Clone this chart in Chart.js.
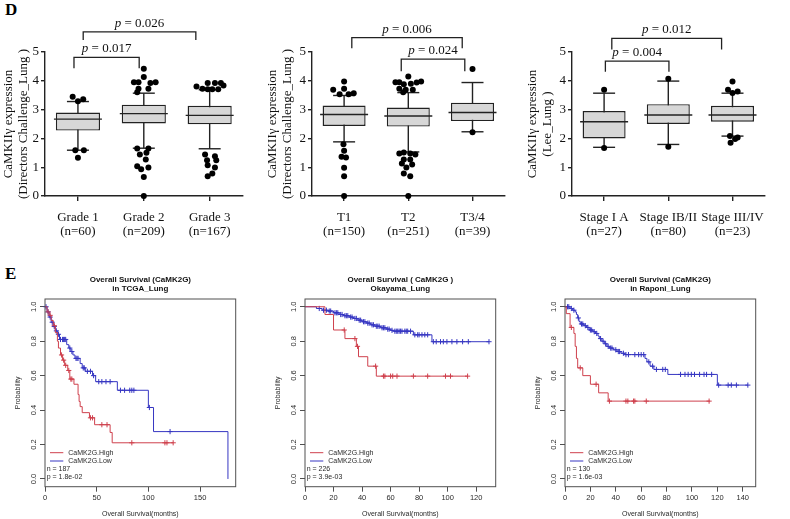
<!DOCTYPE html>
<html><head><meta charset="utf-8">
<script src="https://cdn.jsdelivr.net/npm/chart.js@4.4.1/dist/chart.umd.min.js"></script>
<style>
html,body{margin:0;padding:0;background:#fff;}
body{width:790px;height:519px;position:relative;overflow:hidden;}
canvas{position:absolute;}
.lab{position:absolute;font:bold 17px/17px "Liberation Serif",serif;color:#000;}
</style></head><body>
<div class="lab" style="left:5px;top:1px">D</div>
<div class="lab" style="left:5px;top:265px">E</div>
<canvas id="box1" width="268" height="245" style="left:0;top:0"></canvas>
<canvas id="box2" width="270" height="245" style="left:260px;top:0"></canvas>
<canvas id="box3" width="270" height="245" style="left:520px;top:0"></canvas>
<canvas id="km1" width="260" height="249" style="left:0;top:270px"></canvas>
<canvas id="km2" width="265" height="249" style="left:260px;top:270px"></canvas>
<canvas id="km3" width="270" height="249" style="left:520px;top:270px"></canvas>
<script>
// ---------------- DATA: box plots ----------------
const gradeLabels = [['Grade 1','(n=60)'],['Grade 2','(n=209)'],['Grade 3','(n=167)']];
const gradeQ1 = [2.27, 2.52, 2.49];
const gradeMedian = [2.67, 2.86, 2.80];
const gradeQ3 = [2.90, 3.17, 3.13];
const gradeLow = [1.59, 1.66, 1.64];
const gradeHigh = [3.28, 3.57, 3.69];
const gradeOutliers = [ // [x in category units, value]
  [-0.08,3.45],[0.0,3.29],[0.08,3.36],[-0.04,1.59],[0.09,1.59],[0.0,1.33],
  [1.0,4.42],[1.0,4.13],[0.85,3.95],[0.92,3.95],[1.10,3.92],[1.18,3.95],[0.92,3.72],[1.07,3.72],[0.90,3.60],
  [0.90,1.65],[1.07,1.65],[0.94,1.44],[1.04,1.50],[1.03,1.27],[0.90,1.03],[1.07,0.99],[0.96,0.93],[1.0,0.66],[1.0,0.0],
  [1.80,3.80],[1.89,3.72],[1.97,3.92],[2.08,3.92],[2.17,3.92],[2.21,3.84],[1.97,3.71],[2.04,3.71],[2.13,3.71],
  [1.93,1.44],[2.08,1.38],[1.96,1.24],[2.10,1.24],[1.97,1.07],[2.08,0.99],[1.97,0.69],[2.04,0.78]
];
const gradePValues = ['0.026','0.017'];

const tLabels = [['T1','(n=150)'],['T2','(n=251)'],['T3/4','(n=39)']];
const tQ1 = [2.43, 2.41, 2.60];
const tMedian = [2.83, 2.78, 2.90];
const tQ3 = [3.14, 3.07, 3.24];
const tLow = [1.88, 1.53, 2.23];
const tHigh = [3.49, 3.59, 3.94];
const tOutliers = [
  [-0.17,3.69],[0.0,3.98],[0.0,3.72],[-0.07,3.53],[0.07,3.53],[0.15,3.57],
  [-0.01,1.80],[0.0,1.57],[-0.04,1.36],[0.03,1.34],[0.0,0.98],[0.0,0.69],[0.0,0.0],
  [1.0,4.15],[0.80,3.95],[0.86,3.95],[0.93,3.88],[1.04,3.90],[1.13,3.94],[1.20,3.98],[0.86,3.72],[0.96,3.69],[1.07,3.69],[0.92,3.60],
  [0.86,1.48],[0.93,1.51],[1.03,1.48],[1.11,1.44],[0.93,1.27],[1.03,1.27],[0.90,1.13],[1.06,1.09],[0.97,0.99],[0.93,0.78],[1.03,0.69],[1.0,0.0],
  [2.0,4.41],[2.0,2.21]
];
const tPValues = ['0.006','0.024'];

const stageLabels = [['Stage I A','(n=27)'],['Stage IB/II','(n=80)'],['Stage III/IV','(n=23)']];
const stageQ1 = [2.00, 2.50, 2.58];
const stageMedian = [2.58, 2.81, 2.81];
const stageQ3 = [2.95, 3.19, 3.13];
const stageLow = [1.69, 1.79, 2.08];
const stageHigh = [3.57, 3.99, 3.57];
const stageOutliers = [
  [0.0,3.69],[0.0,1.67],[1.0,4.07],[1.0,1.71],
  [2.0,3.98],[1.93,3.69],[2.0,3.58],[2.08,3.63],[1.97,1.85],[2.04,1.98],[2.08,2.03],[1.96,2.08]
];
const stagePValues = ['0.012','0.004'];

const boxYTicks = [0,1,2,3,4,5];

// ---------------- DATA: Kaplan-Meier ----------------
const kmYTicks = [0,0.2,0.4,0.6,0.8,1.0];
const kmYTickLabels = ['0.0','0.2','0.4','0.6','0.8','1.0'];
const seriesNames = ['CaMK2G.High','CaMK2G.Low'];

const km1HighT = [0,2,4,6,8,10,12,13,15,17,19,22,24,28,32,33,34,36,43,48,63,65,124];
const km1HighS = [1,0.97,0.95,0.92,0.89,0.85,0.80,0.76,0.72,0.69,0.66,0.63,0.58,0.55,0.49,0.45,0.42,0.385,0.355,0.315,0.27,0.21,0.21];
const km1HighCens = [3,5,9,16,18,20,23,25,26,44,46,55,60,84,116,118,124];
const km1LowT = [0,2,4,6,8,10,12,14,21,23,25,27,29,34,36,39,46,49,70,100,105,177];
const km1LowS = [1,0.97,0.94,0.91,0.885,0.86,0.84,0.81,0.78,0.76,0.74,0.72,0.70,0.67,0.645,0.625,0.60,0.565,0.515,0.415,0.275,0];
const km1LowCens = [1,3,5,7,9,11,13,15,17,18,19,20,24,26,30,31,32,37,38,41,44,47,52,55,59,63,73,77,82,84,86,101,121];
const km1XTicks = [0,50,100,150];

const km2HighT = [0,14,20,28,36,37.5,44,50,114];
const km2HighS = [1,0.955,0.865,0.815,0.77,0.71,0.655,0.597,0.597];
const km2HighCens = [27.5,35,36.8,49.5,55,56,60,61.5,64.5,76,86,98.5,102,114];
const km2LowT = [0,8,12,16,20,24,27,31,34,37,40,43,46,49,53,57,60,62,76,89,129];
const km2LowS = [1,0.99,0.98,0.975,0.965,0.955,0.948,0.94,0.932,0.922,0.913,0.905,0.895,0.887,0.878,0.87,0.863,0.858,0.837,0.797,0.797];
const km2LowCens = [10,13,15,17,18,21,22,23,25,26,28,29,30,32,33,35,36,38,39,41,42,44,45,47,48,50,51,52,54,55,56,58,59,61,63,64,65,66,67,68,70,71,72,74,77,79,80,82,84,86,90,92,95,97,99.5,103,106.5,110.5,114.5,129];
const km2XTicks = [0,20,40,60,80,100,120];

const km3HighT = [0,1,4,7,8,9,10,14,20,26.5,34,114];
const km3HighS = [1,0.96,0.88,0.845,0.77,0.70,0.645,0.60,0.55,0.50,0.452,0.452];
const km3HighCens = [5,12,24.5,35,48,49.5,54,55,64,113.5];
const km3LowT = [0,4,6,8,9,10,11,12,15,17,19,22,24,26,27,29,31,33,35,38,41,44,47,63,64.5,67,70,81,120,144];
const km3LowS = [1,0.99,0.98,0.97,0.955,0.935,0.915,0.90,0.89,0.88,0.865,0.855,0.845,0.83,0.815,0.80,0.785,0.77,0.76,0.75,0.74,0.73,0.722,0.70,0.68,0.655,0.636,0.607,0.545,0.545];
const km3LowCens = [2,3,5,7,10.5,13,14,16,18,20,21,23,25,28,30,32,34,36,37,40,42,43,46,48,50,55,58,60,62,66,69,72,77,79,91,94.5,97,99.5,102,106,109.5,111.5,115.5,121,128.5,131,135,144];
const km3XTicks = [0,20,40,60,80,100,120,140];

// ---------------- helpers ----------------
const SERIF = '"Liberation Serif","Times New Roman",serif';
const SANS = '"Liberation Sans",Arial,sans-serif';
const INK = '#222';
const RED = '#cf404d';
const BLUE = '#3636c2';
const KTXT = '#2a2a2a';
const FRAME = '#505050';

const bracketPlugin = {
  id: 'brackets',
  afterDraw(chart, args, o) {
    const {ctx, scales:{x, y}} = chart;
    (o.items || []).forEach(b => {
      const x1 = x.getPixelForValue(b.from), x2 = x.getPixelForValue(b.to);
      const yl = y.getPixelForValue(b.level), yf = y.getPixelForValue(b.foot);
      ctx.save();
      ctx.strokeStyle = INK; ctx.lineWidth = 1.3;
      ctx.beginPath(); ctx.moveTo(x1, yf); ctx.lineTo(x1, yl); ctx.lineTo(x2, yl); ctx.lineTo(x2, yf); ctx.stroke();
      ctx.fillStyle = '#111'; ctx.textBaseline = 'alphabetic'; ctx.textAlign = 'left';
      ctx.font = 'italic 13px ' + SERIF; const w1 = ctx.measureText('p').width;
      const rest = ' = ' + b.p;
      ctx.font = '13px ' + SERIF; const w2 = ctx.measureText(rest).width;
      const sx = (x1 + x2) / 2 - (w1 + w2) / 2, by = yl - 5;
      ctx.font = 'italic 13px ' + SERIF; ctx.fillText('p', sx, by);
      ctx.font = '13px ' + SERIF; ctx.fillText(rest, sx + w1, by);
      ctx.restore();
    });
  }
};

function makeBox(id, g, place) {
  const canvas = document.getElementById(id);
  const H = canvas.height;
  const idx = g.labels.map((_, i) => i);
  const whiskers = [];
  idx.forEach(i => whiskers.push({x:i, y:g.low[i]}, {x:i, y:g.high[i]}, {x:i, y:null}));
  const caps = idx.flatMap(i => [{x:i, y:g.low[i]}, {x:i, y:g.high[i]}]);
  const meds = idx.map(i => ({x:i, y:g.median[i]}));
  const outs = g.outliers.map(([x, y]) => ({x, y}));
  new Chart(canvas, {
    type: 'bar',
    data: { datasets: [
      {type:'bar', data: idx.map(i => ({x:i, y:[g.q1[i], g.q3[i]]})), backgroundColor:'#d7d7d7', borderColor:INK,
       borderWidth:1.4, borderSkipped:false, grouped:false, barPercentage:0.67, categoryPercentage:1, order:4, clip:false},
      {type:'line', data: whiskers, borderColor:INK, borderWidth:1.4, pointRadius:0, spanGaps:false, order:5, clip:false},
      {type:'line', data: caps, showLine:false, pointStyle:'line', pointRadius:11, pointBorderColor:INK, pointBorderWidth:1.4, order:3, clip:false},
      {type:'line', data: meds, showLine:false, pointStyle:'line', pointRadius:24, pointBorderColor:INK, pointBorderWidth:1.4, order:2, clip:false},
      {type:'line', data: outs, showLine:false, pointStyle:'circle', pointRadius:3.0, pointBackgroundColor:'#000', pointBorderColor:'#000', pointBorderWidth:0, order:1, clip:false}
    ]},
    plugins: [bracketPlugin],
    options: {
      responsive:false, animation:false, devicePixelRatio:1, events:[],
      layout: { padding: {top:52, right:place.padRight, left:0, bottom:0} },
      plugins: { legend:{display:false}, tooltip:{enabled:false}, brackets:{items:g.brackets} },
      scales: {
        x: { type:'linear', min:-0.5, max:idx.length - 0.5, offset:false,
          afterBuildTicks: s => { s.ticks = idx.map(v => ({value:v})); },
          afterFit: s => { s.height = H - 196; },
          grid: {display:true, drawOnChartArea:false, drawTicks:true, tickLength:5, color:INK, lineWidth:1.4, offset:false},
          border: {display:true, color:INK, width:1.4},
          ticks: {callback: v => g.labels[v], font:{family:SERIF, size:13, lineHeight:'14px'}, color:'#111', padding:10, maxRotation:0, minRotation:0, autoSkip:false}
        },
        y: { type:'linear', min:0, max:5,
          afterBuildTicks: s => { s.ticks = boxYTicks.map(v => ({value:v})); },
          afterFit: s => { s.width = place.axisX; },
          grid: {display:true, drawOnChartArea:false, drawTicks:true, tickLength:4, color:INK, lineWidth:1.4},
          border: {display:true, color:INK, width:1.4},
          ticks: {font:{family:SERIF, size:13}, color:'#111', padding:2},
          title: {display:true, text:g.title, font:{family:SERIF, size:13, lineHeight:'15px'}, color:'#111', padding:{top:place.titlePad, bottom:0}}
        }
      }
    }
  });
}

function stepAt(T, S, t) {
  let v = S[0];
  for (let i = 0; i < T.length; i++) if (T[i] <= t) v = S[i];
  return v;
}

const kmPlugin = {
  id: 'kmDecor',
  afterDraw(chart, args, o) {
    const {ctx, chartArea:a, scales:{y}} = chart;
    ctx.save();
    ctx.strokeStyle = FRAME; ctx.lineWidth = 1;
    ctx.strokeRect(a.left, a.top, a.right - a.left, a.bottom - a.top);
    ctx.fillStyle = KTXT; ctx.font = '7.5px ' + SANS; ctx.textAlign = 'center'; ctx.textBaseline = 'middle';
    kmYTicks.forEach((v, i) => {
      ctx.save(); ctx.translate(a.left - 11.5, y.getPixelForValue(v)); ctx.rotate(-Math.PI / 2);
      ctx.fillText(kmYTickLabels[i], 0, 0); ctx.restore();
    });
    const cx = (a.left + a.right) / 2;
    ctx.fillStyle = '#111'; ctx.font = 'bold 8px ' + SANS;
    ctx.fillText(o.title[0], cx, a.top - 19);
    ctx.fillText(o.title[1], cx, a.top - 10);
    ctx.font = '7px ' + SANS; ctx.textAlign = 'left';
    const lx = a.left, by = a.bottom;
    [[RED, seriesNames[0], -34], [BLUE, seriesNames[1], -25.7]].forEach(([c, t, dy]) => {
      ctx.strokeStyle = c; ctx.lineWidth = 1;
      ctx.beginPath(); ctx.moveTo(lx + 5, by + dy); ctx.lineTo(lx + 18.3, by + dy); ctx.stroke();
      ctx.fillStyle = KTXT; ctx.fillText(t, lx + 23.3, by + dy);
    });
    ctx.fillText('n = ' + o.n, lx + 1.7, by - 17.7);
    ctx.fillText('p = ' + o.p, lx + 1.7, by - 9.4);
    ctx.restore();
  }
};

function makeKM(id, k) {
  const canvas = document.getElementById(id);
  const H = canvas.height, W = canvas.width;
  const curve = (T, S) => T.map((t, i) => ({x:t, y:S[i]}));
  const cens = (C, T, S) => C.map(t => ({x:t, y:stepAt(T, S, t)}));
  new Chart(canvas, {
    type: 'line',
    data: { datasets: [
      {label:seriesNames[0], data:curve(k.highT, k.highS), stepped:true, borderColor:RED, borderWidth:1, pointRadius:0, fill:false, clip:false},
      {label:seriesNames[1], data:curve(k.lowT, k.lowS), stepped:true, borderColor:BLUE, borderWidth:1, pointRadius:0, fill:false, clip:false},
      {data:cens(k.highCens, k.highT, k.highS), showLine:false, pointStyle:'cross', pointRadius:2.6, pointBorderColor:RED, pointBorderWidth:1, clip:false},
      {data:cens(k.lowCens, k.lowT, k.lowS), showLine:false, pointStyle:'cross', pointRadius:2.6, pointBorderColor:BLUE, pointBorderWidth:1, clip:false}
    ]},
    plugins: [kmPlugin],
    options: {
      responsive:false, animation:false, devicePixelRatio:1, events:[],
      layout: { padding: {top:29, right:W - 235.7, left:0, bottom:0} },
      plugins: { legend:{display:false}, tooltip:{enabled:false}, kmDecor:{title:k.title, n:k.n, p:k.p} },
      scales: {
        x: { type:'linear', min:0, max:k.xMax,
          afterBuildTicks: s => { s.ticks = k.xTicks.map(v => ({value:v})); },
          afterFit: s => { s.height = H - 216.7; },
          grid: {display:true, drawOnChartArea:false, drawTicks:true, tickLength:5, color:FRAME, lineWidth:1},
          border: {display:false},
          ticks: {font:{family:SANS, size:7.5}, color:KTXT, padding:2, maxRotation:0, autoSkip:false},
          title: {display:true, text:'Overall Survival(months)', font:{family:SANS, size:7}, color:KTXT, padding:{top:0, bottom:0.5}}
        },
        y: { type:'linear', min:-0.045, max:1.045,
          afterBuildTicks: s => { s.ticks = kmYTicks.map(v => ({value:v})); },
          afterFit: s => { s.width = 45; },
          grid: {display:true, drawOnChartArea:false, drawTicks:true, tickLength:5, color:FRAME, lineWidth:1},
          border: {display:false},
          ticks: {display:false},
          title: {display:true, text:'Probability', font:{family:SANS, size:7}, color:KTXT, padding:{top:14, bottom:0}}
        }
      }
    }
  });
}

// ---------------- build ----------------
makeBox('box1', {labels:gradeLabels, q1:gradeQ1, median:gradeMedian, q3:gradeQ3, low:gradeLow, high:gradeHigh, outliers:gradeOutliers,
  title:['CaMKIIγ expression','(Directors Challenge_Lung )'],
  brackets:[{from:0.08, to:1.79, level:5.70, foot:5.42, p:gradePValues[0]}, {from:-0.06, to:0.93, level:4.81, foot:4.44, p:gradePValues[1]}]},
  {axisX:45, padRight:8, titlePad:1.5});
makeBox('box2', {labels:tLabels, q1:tQ1, median:tMedian, q3:tQ3, low:tLow, high:tHigh, outliers:tOutliers,
  title:['CaMKIIγ expression','(Directors Challenge_Lung )'],
  brackets:[{from:0.12, to:1.84, level:5.50, foot:5.13, p:tPValues[0]}, {from:0.89, to:1.88, level:4.75, foot:4.33, p:tPValues[1]}]},
  {axisX:52, padRight:3, titlePad:5.5});
makeBox('box3', {labels:stageLabels, q1:stageQ1, median:stageMedian, q3:stageQ3, low:stageLow, high:stageHigh, outliers:stageOutliers,
  title:['CaMKIIγ expression','(Lee_Lung )'],
  brackets:[{from:0.12, to:1.83, level:5.47, foot:5.09, p:stagePValues[0]}, {from:0.02, to:1.01, level:4.68, foot:4.31, p:stagePValues[1]}]},
  {axisX:52, padRight:3, titlePad:5.5});

makeKM('km1', {highT:km1HighT, highS:km1HighS, highCens:km1HighCens, lowT:km1LowT, lowS:km1LowS, lowCens:km1LowCens,
  xTicks:km1XTicks, xMax:184.5, title:['Overall Survival (CaMK2G)','in TCGA_Lung'], n:187, p:'1.8e-02'});
makeKM('km2', {highT:km2HighT, highS:km2HighS, highCens:km2HighCens, lowT:km2LowT, lowS:km2LowS, lowCens:km2LowCens,
  xTicks:km2XTicks, xMax:133.7, title:['Overall Survival ( CaMK2G )','Okayama_Lung'], n:226, p:'3.9e-03'});
makeKM('km3', {highT:km3HighT, highS:km3HighS, highCens:km3HighCens, lowT:km3LowT, lowS:km3LowS, lowCens:km3LowCens,
  xTicks:km3XTicks, xMax:150.2, title:['Overall Survival (CaMK2G)','in Raponi_Lung'], n:130, p:'1.6e-03'});
</script>
</body></html>
